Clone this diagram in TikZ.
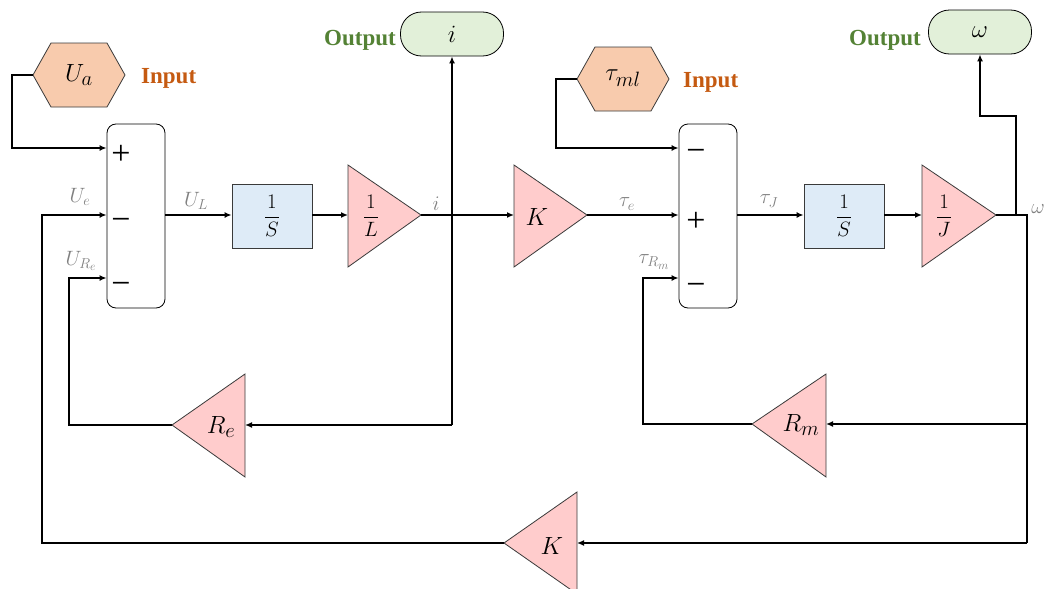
\documentclass[tikz,border=0pt]{standalone}
\usepackage{amsmath}
\usepackage{fontspec}
\setmainfont{Liberation Serif}
\usetikzlibrary{arrows.meta,calc}
\definecolor{hexfill}{HTML}{F8CBAD}
\definecolor{outfill}{HTML}{E2F0D9}
\definecolor{intfill}{HTML}{DEEBF7}
\definecolor{trifill}{HTML}{FFCCCC}
\definecolor{incol}{HTML}{C55A11}
\definecolor{outcol}{HTML}{548235}
\definecolor{lblcol}{HTML}{808080}
\definecolor{edgecol}{HTML}{3A3A3A}
\begin{document}
\begin{tikzpicture}[x=1pt,y=-1pt,
  wire/.style={line width=2.2pt,draw=black},
  arr/.style={wire,-{Latex[length=7pt,width=6pt]}},
  hexshape/.style={fill=hexfill,draw=edgecol,line width=0.8pt},
  trishape/.style={fill=trifill,draw=edgecol,line width=0.8pt},
  sumbox/.style={draw=black,line width=0.8pt,rounded corners=9pt,fill=white,minimum width=58pt,minimum height=184pt,inner sep=0pt},
  intbox/.style={draw=edgecol,line width=0.8pt,fill=intfill,minimum width=80pt,minimum height=64pt,inner sep=0pt,font=\fontsize{20.74}{24}\selectfont},
  outbox/.style={draw=black,line width=0.8pt,fill=outfill,rounded corners=21pt,minimum width=103pt,minimum height=44pt,inner sep=0pt,font=\fontsize{24.88}{28}\selectfont},
  intext/.style={text=incol,font=\fontsize{23}{26}\selectfont\bfseries,inner sep=0pt},
  outtext/.style={text=outcol,font=\fontsize{23}{26}\selectfont\bfseries,inner sep=0pt},
  lbl/.style={text=lblcol,font=\fontsize{20.74}{24}\selectfont,inner sep=0pt},
  fraclbl/.style={font=\fontsize{20.74}{24}\selectfont,inner sep=0pt},
  gainlbl/.style={font=\fontsize{24.88}{28}\selectfont,inner sep=0pt},
  sign/.style={font=\fontsize{34}{36}\selectfont,inner sep=0pt,text height=17pt,text depth=0pt},
  hexlbl/.style={font=\fontsize{24.88}{28}\selectfont,inner sep=0pt}]
\useasboundingbox (0,0) rectangle (1047,589);

% ---------- inputs (hexagons)
\filldraw[hexshape] (33,75) -- (51,43) -- (107,43) -- (125,75) -- (107,107) -- (51,107) -- cycle;
\node[hexlbl] (ua) at (79,75) {$U_a$};
\coordinate (uaW) at (33,75);
\node[intext,anchor=base west] (inA) at (141,83) {Input};

\filldraw[hexshape] (577,79) -- (595,47) -- (651,47) -- (669,79) -- (651,111) -- (595,111) -- cycle;
\node[hexlbl] (tml) at (623,78) {$\tau_{ml}$};
\coordinate (tmlW) at (577,79);
\node[intext,anchor=base west] (inB) at (683,87) {Input};

% ---------- outputs
\node[outbox] (outI) at (452,34) {$i$};
\node[outtext,anchor=base east] (otA) at (396,45) {Output};
\node[outbox] (outW) at (980,32) {$\omega$};
\node[outtext,anchor=base east] (otB) at (921,45) {Output};

% ---------- summing blocks
\node[sumbox] (sum1) at (136,216) {};
\node[sign] (s1a) at (121,156) {+};
\node[sign] (s1b) at (121,222) {−};
\node[sign] (s1c) at (121,286) {−};
\node[sumbox] (sum2) at (708,216) {};
\node[sign] (s2a) at (696,153) {−};
\node[sign] (s2b) at (696,223) {+};
\node[sign] (s2c) at (696,287) {−};

% ---------- integrators
\node[intbox] (int1) at (272,216) {$\dfrac{1}{S}$};
\node[intbox] (int2) at (844,216) {$\dfrac{1}{S}$};

% ---------- gain triangles
\filldraw[trishape] (348,165) -- (421,215) -- (348,267) -- cycle;
\node[fraclbl] (gL) at (371,216) {$\dfrac{1}{L}$};
\coordinate (gLin) at (348,215); \coordinate (gLout) at (421,215);

\filldraw[trishape] (514,165) -- (587,215) -- (514,267) -- cycle;
\node[gainlbl] (gK) at (537,217) {$K$};
\coordinate (gKin) at (514,215); \coordinate (gKout) at (587,215);

\filldraw[trishape] (922,165) -- (996,215) -- (922,267) -- cycle;
\node[fraclbl] (gJ) at (944,216) {$\dfrac{1}{J}$};
\coordinate (gJin) at (922,215); \coordinate (gJout) at (996,215);

\filldraw[trishape] (245,374) -- (172,425) -- (245,477) -- cycle;
\node[gainlbl] (gRe) at (221,427) {$R_e$};
\coordinate (gRein) at (245,425); \coordinate (gReout) at (172,425);

\filldraw[trishape] (826,374) -- (752,424) -- (826,477) -- cycle;
\node[gainlbl] (gRm) at (801,425) {$R_m$};
\coordinate (gRmin) at (826,424); \coordinate (gRmout) at (752,424);

\filldraw[trishape] (577,492) -- (504,543) -- (577,594) -- cycle;
\node[gainlbl] (gK2) at (552,546) {$K$};
\coordinate (gK2in) at (577,543); \coordinate (gK2out) at (504,543);

% ---------- junction coordinates
\coordinate (jIf) at (452,425);
\coordinate (jW) at (1027,215);
\coordinate (jWb) at (1016,215);
\coordinate (jWr) at (1027,424);
\coordinate (jWk) at (1027,543);

% ---------- wires
\draw[arr] (uaW) -- (12,75) |- (sum1.west |- {0,148});
\draw[arr] (tmlW) -- (556,79) |- (sum2.west |- {0,148});

\draw[arr] (sum1.east |- {0,215}) -- (int1.west |- {0,215});
\draw[arr] (int1.east |- {0,215}) -- (gLin);
\draw[arr] (gLout) -- (gKin);
\draw[arr] (jIf) -- (outI.south);
\draw[arr] (gKout) -- (sum2.west |- {0,215});
\draw[arr] (sum2.east |- {0,215}) -- (int2.west |- {0,215});
\draw[arr] (int2.east |- {0,215}) -- (gJin);
\draw[wire] (gJout) -- (jW) -- (jWk);
\draw[arr] (jWb) -- (1016,116) -- (outW.south |- {0,116}) -- (outW.south);

\draw[arr] (jIf) -- (gRein);
\draw[arr] (gReout) -- (69,425) |- (sum1.west |- {0,278});
\draw[arr] (jWr) -- (gRmin);
\draw[arr] (gRmout) -- (643,424) |- (sum2.west |- {0,278});
\draw[arr] (jWk) -- (gK2in);
\draw[arr] (gK2out) -- (42,543) |- (sum1.west |- {0,215});

% ---------- signal labels
\node[lbl] (lUe) at (80,197) {$U_e$};
\node[lbl] (lURe) at (81,261) {$U_{R_e}$};
\node[lbl] (lUL) at (196,201) {$U_L$};
\node[lbl] (li) at (436,204) {$i$};
\node[lbl] (lte) at (627,204) {$\tau_e$};
\node[lbl] (ltJ) at (769,201) {$\tau_J$};
\node[lbl] (ltRm) at (654,262) {$\tau_{R_m}$};
\node[lbl] (lw) at (1038,209) {$\omega$};
\end{tikzpicture}
\end{document}
